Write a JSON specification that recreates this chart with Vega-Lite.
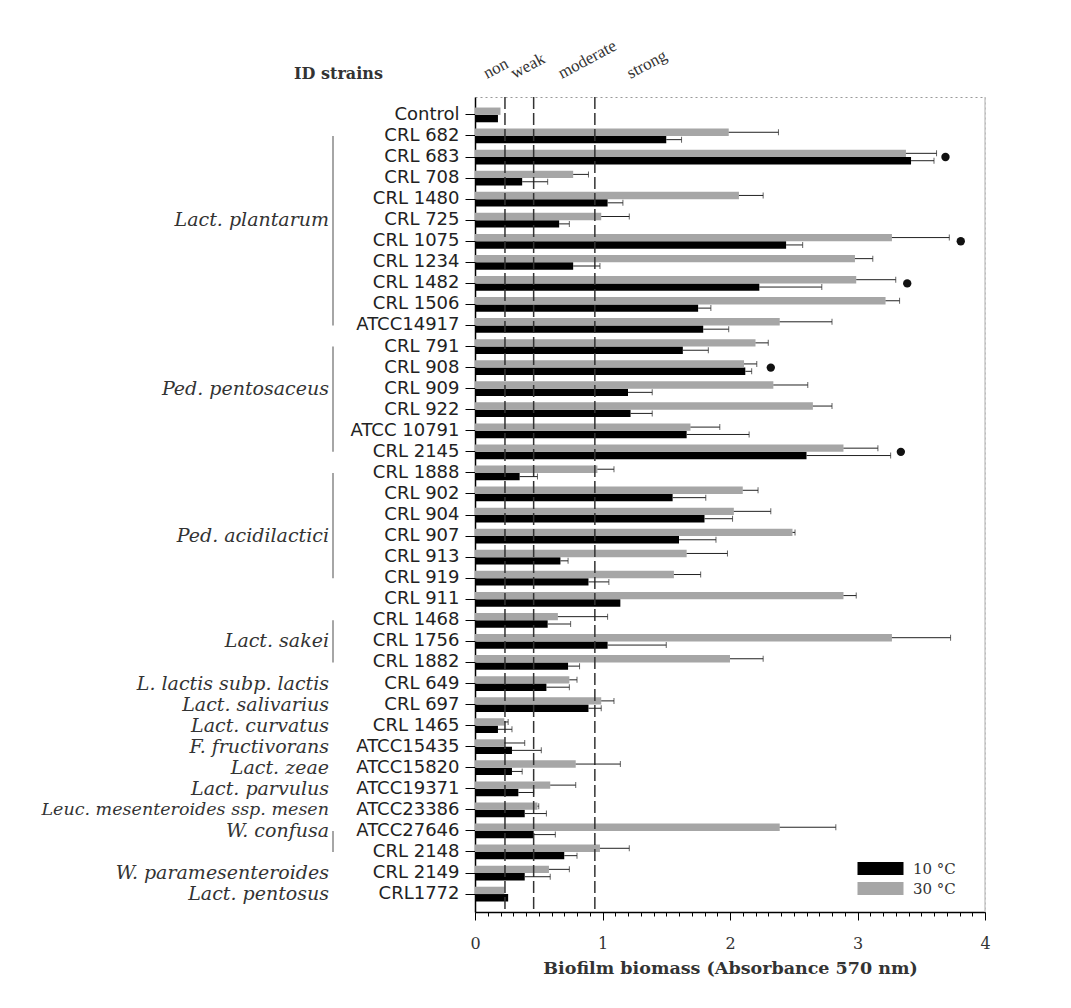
{
  "$schema": "https://vega.github.io/schema/vega-lite/v6.json",
  "width": 510,
  "height": 815,
  "autosize": {"type": "none"},
  "padding": {"left": 475, "top": 97, "right": 86, "bottom": 96},
  "background": "white",
  "config": {
    "view": {"stroke": "#999", "strokeDash": [2, 3], "strokeWidth": 1}
  },
  "datasets": {
    "bars": [
      {"strain": "Control", "temp": "10 °C", "mean": 0.18, "upper": 0.18},
      {"strain": "Control", "temp": "30 °C", "mean": 0.2, "upper": 0.2},
      {"strain": "CRL 682", "temp": "10 °C", "mean": 1.5, "upper": 1.62},
      {"strain": "CRL 682", "temp": "30 °C", "mean": 1.99, "upper": 2.38},
      {"strain": "CRL 683", "temp": "10 °C", "mean": 3.42, "upper": 3.6},
      {"strain": "CRL 683", "temp": "30 °C", "mean": 3.38, "upper": 3.62},
      {"strain": "CRL 708", "temp": "10 °C", "mean": 0.37, "upper": 0.57},
      {"strain": "CRL 708", "temp": "30 °C", "mean": 0.77, "upper": 0.89},
      {"strain": "CRL 1480", "temp": "10 °C", "mean": 1.04, "upper": 1.16},
      {"strain": "CRL 1480", "temp": "30 °C", "mean": 2.07, "upper": 2.26},
      {"strain": "CRL 725", "temp": "10 °C", "mean": 0.66, "upper": 0.74},
      {"strain": "CRL 725", "temp": "30 °C", "mean": 0.99, "upper": 1.21},
      {"strain": "CRL 1075", "temp": "10 °C", "mean": 2.44, "upper": 2.57},
      {"strain": "CRL 1075", "temp": "30 °C", "mean": 3.27, "upper": 3.72},
      {"strain": "CRL 1234", "temp": "10 °C", "mean": 0.77, "upper": 0.98},
      {"strain": "CRL 1234", "temp": "30 °C", "mean": 2.98, "upper": 3.12},
      {"strain": "CRL 1482", "temp": "10 °C", "mean": 2.23, "upper": 2.72},
      {"strain": "CRL 1482", "temp": "30 °C", "mean": 2.99, "upper": 3.3},
      {"strain": "CRL 1506", "temp": "10 °C", "mean": 1.75, "upper": 1.85},
      {"strain": "CRL 1506", "temp": "30 °C", "mean": 3.22, "upper": 3.33},
      {"strain": "ATCC14917", "temp": "10 °C", "mean": 1.79, "upper": 1.99},
      {"strain": "ATCC14917", "temp": "30 °C", "mean": 2.39, "upper": 2.8},
      {"strain": "CRL 791", "temp": "10 °C", "mean": 1.63, "upper": 1.83},
      {"strain": "CRL 791", "temp": "30 °C", "mean": 2.2, "upper": 2.3},
      {"strain": "CRL 908", "temp": "10 °C", "mean": 2.12, "upper": 2.17},
      {"strain": "CRL 908", "temp": "30 °C", "mean": 2.11, "upper": 2.21},
      {"strain": "CRL 909", "temp": "10 °C", "mean": 1.2, "upper": 1.39},
      {"strain": "CRL 909", "temp": "30 °C", "mean": 2.34, "upper": 2.61},
      {"strain": "CRL 922", "temp": "10 °C", "mean": 1.22, "upper": 1.39},
      {"strain": "CRL 922", "temp": "30 °C", "mean": 2.65, "upper": 2.8},
      {"strain": "ATCC 10791", "temp": "10 °C", "mean": 1.66, "upper": 2.15},
      {"strain": "ATCC 10791", "temp": "30 °C", "mean": 1.69, "upper": 1.92},
      {"strain": "CRL 2145", "temp": "10 °C", "mean": 2.6, "upper": 3.26},
      {"strain": "CRL 2145", "temp": "30 °C", "mean": 2.89, "upper": 3.16},
      {"strain": "CRL 1888", "temp": "10 °C", "mean": 0.35, "upper": 0.49},
      {"strain": "CRL 1888", "temp": "30 °C", "mean": 0.96, "upper": 1.09},
      {"strain": "CRL 902", "temp": "10 °C", "mean": 1.55, "upper": 1.81},
      {"strain": "CRL 902", "temp": "30 °C", "mean": 2.1, "upper": 2.22},
      {"strain": "CRL 904", "temp": "10 °C", "mean": 1.8, "upper": 2.02},
      {"strain": "CRL 904", "temp": "30 °C", "mean": 2.03, "upper": 2.32},
      {"strain": "CRL 907", "temp": "10 °C", "mean": 1.6, "upper": 1.89},
      {"strain": "CRL 907", "temp": "30 °C", "mean": 2.49, "upper": 2.51},
      {"strain": "CRL 913", "temp": "10 °C", "mean": 0.67, "upper": 0.73},
      {"strain": "CRL 913", "temp": "30 °C", "mean": 1.66, "upper": 1.98},
      {"strain": "CRL 919", "temp": "10 °C", "mean": 0.89, "upper": 1.05},
      {"strain": "CRL 919", "temp": "30 °C", "mean": 1.56, "upper": 1.77},
      {"strain": "CRL 911", "temp": "10 °C", "mean": 1.14, "upper": 1.14},
      {"strain": "CRL 911", "temp": "30 °C", "mean": 2.89, "upper": 2.99},
      {"strain": "CRL 1468", "temp": "10 °C", "mean": 0.57, "upper": 0.75},
      {"strain": "CRL 1468", "temp": "30 °C", "mean": 0.65, "upper": 1.04},
      {"strain": "CRL 1756", "temp": "10 °C", "mean": 1.04, "upper": 1.5},
      {"strain": "CRL 1756", "temp": "30 °C", "mean": 3.27, "upper": 3.73},
      {"strain": "CRL 1882", "temp": "10 °C", "mean": 0.73, "upper": 0.82},
      {"strain": "CRL 1882", "temp": "30 °C", "mean": 2.0, "upper": 2.26},
      {"strain": "CRL 649", "temp": "10 °C", "mean": 0.56, "upper": 0.74},
      {"strain": "CRL 649", "temp": "30 °C", "mean": 0.74, "upper": 0.8},
      {"strain": "CRL 697", "temp": "10 °C", "mean": 0.89, "upper": 0.99},
      {"strain": "CRL 697", "temp": "30 °C", "mean": 0.99, "upper": 1.09},
      {"strain": "CRL 1465", "temp": "10 °C", "mean": 0.18, "upper": 0.29},
      {"strain": "CRL 1465", "temp": "30 °C", "mean": 0.23, "upper": 0.26},
      {"strain": "ATCC15435", "temp": "10 °C", "mean": 0.29, "upper": 0.52},
      {"strain": "ATCC15435", "temp": "30 °C", "mean": 0.23, "upper": 0.39},
      {"strain": "ATCC15820", "temp": "10 °C", "mean": 0.29, "upper": 0.37},
      {"strain": "ATCC15820", "temp": "30 °C", "mean": 0.79, "upper": 1.14},
      {"strain": "ATCC19371", "temp": "10 °C", "mean": 0.34, "upper": 0.46},
      {"strain": "ATCC19371", "temp": "30 °C", "mean": 0.59, "upper": 0.79},
      {"strain": "ATCC23386", "temp": "10 °C", "mean": 0.39, "upper": 0.56},
      {"strain": "ATCC23386", "temp": "30 °C", "mean": 0.49, "upper": 0.5},
      {"strain": "ATCC27646", "temp": "10 °C", "mean": 0.46, "upper": 0.63},
      {"strain": "ATCC27646", "temp": "30 °C", "mean": 2.39, "upper": 2.83},
      {"strain": "CRL 2148", "temp": "10 °C", "mean": 0.7, "upper": 0.8},
      {"strain": "CRL 2148", "temp": "30 °C", "mean": 0.98, "upper": 1.21},
      {"strain": "CRL 2149", "temp": "10 °C", "mean": 0.39, "upper": 0.59},
      {"strain": "CRL 2149", "temp": "30 °C", "mean": 0.58, "upper": 0.74},
      {"strain": "CRL1772", "temp": "10 °C", "mean": 0.26, "upper": 0.26},
      {"strain": "CRL1772", "temp": "30 °C", "mean": 0.23, "upper": 0.23}
    ],
    "sig": [
      {"strain": "CRL 683", "pos": 3.69},
      {"strain": "CRL 1075", "pos": 3.81},
      {"strain": "CRL 1482", "pos": 3.39},
      {"strain": "CRL 908", "pos": 2.32},
      {"strain": "CRL 2145", "pos": 3.34}
    ],
    "species": [
      {"strain": "CRL 725", "species": "Lact. plantarum"},
      {"strain": "CRL 909", "species": "Ped. pentosaceus"},
      {"strain": "CRL 907", "species": "Ped. acidilactici"},
      {"strain": "CRL 1756", "species": "Lact. sakei"},
      {"strain": "CRL 649", "species": "L. lactis subp. lactis"},
      {"strain": "CRL 697", "species": "Lact. salivarius"},
      {"strain": "CRL 1465", "species": "Lact. curvatus"},
      {"strain": "ATCC15435", "species": "F. fructivorans"},
      {"strain": "ATCC15820", "species": "Lact. zeae"},
      {"strain": "ATCC19371", "species": "Lact. parvulus"},
      {"strain": "ATCC23386", "species": "Leuc. mesenteroides ssp. mesen"},
      {"strain": "ATCC27646", "species": "W. confusa"},
      {"strain": "CRL 2149", "species": "W. paramesenteroides"},
      {"strain": "CRL1772", "species": "Lact. pentosus"}
    ],
    "brackets": [
      {"strain": "CRL 682", "last": "ATCC14917"},
      {"strain": "CRL 791", "last": "CRL 2145"},
      {"strain": "CRL 1888", "last": "CRL 919"},
      {"strain": "CRL 1468", "last": "CRL 1882"},
      {"strain": "ATCC27646", "last": "CRL 2148"}
    ],
    "cutoffs": [
      {"t": 0.235},
      {"t": 0.46},
      {"t": 0.94}
    ],
    "zones": [
      {"label": "non", "pos": 0.094},
      {"label": "weak", "pos": 0.31},
      {"label": "moderate", "pos": 0.68},
      {"label": "strong", "pos": 1.22}
    ]
  },
  "layer": [
    {
      "data": {"name": "bars"},
      "mark": {"type": "bar"},
      "encoding": {
        "y": {
          "field": "strain",
          "type": "nominal",
          "scale": {
            "domain": ["Control", "CRL 682", "CRL 683", "CRL 708", "CRL 1480", "CRL 725", "CRL 1075", "CRL 1234", "CRL 1482", "CRL 1506", "ATCC14917", "CRL 791", "CRL 908", "CRL 909", "CRL 922", "ATCC 10791", "CRL 2145", "CRL 1888", "CRL 902", "CRL 904", "CRL 907", "CRL 913", "CRL 919", "CRL 911", "CRL 1468", "CRL 1756", "CRL 1882", "CRL 649", "CRL 697", "CRL 1465", "ATCC15435", "ATCC15820", "ATCC19371", "ATCC23386", "ATCC27646", "CRL 2148", "CRL 2149", "CRL1772"],
            "paddingInner": 0.3,
            "paddingOuter": 0.5
          },
          "axis": {
            "title": "ID strains",
            "titleAngle": 0,
            "titleX": -137,
            "titleY": -24,
            "titleAlign": "center",
            "titleBaseline": "middle",
            "titleFont": "DejaVu Serif",
            "titleFontSize": 16,
            "titleFontWeight": "bold",
            "titleColor": "#333",
            "labelFont": "DejaVu Sans",
            "labelFontSize": 18,
            "labelColor": "#222",
            "labelPadding": 6,
            "labelLimit": 300,
            "tickSize": 10,
            "tickColor": "#000",
            "domainColor": "#000",
            "domainWidth": 1.5
          }
        },
        "yOffset": {
          "field": "temp",
          "type": "nominal",
          "scale": {"domain": ["30 °C", "10 °C"], "paddingInner": 0, "paddingOuter": 0}
        },
        "x": {
          "field": "mean",
          "type": "quantitative",
          "scale": {"domain": [0, 4], "nice": false},
          "axis": {
            "title": "Biofilm biomass (Absorbance 570 nm)",
            "values": [0, 0.1, 0.2, 0.3, 0.4, 0.5, 0.6, 0.7, 0.8, 0.9, 1, 1.1, 1.2, 1.3, 1.4, 1.5, 1.6, 1.7, 1.8, 1.9, 2, 2.1, 2.2, 2.3, 2.4, 2.5, 2.6, 2.7, 2.8, 2.9, 3, 3.1, 3.2, 3.3, 3.4, 3.5, 3.6, 3.7, 3.8, 3.9, 4],
            "tickCount": 60,
            "labelExpr": "datum.value % 1 === 0 ? format(datum.value, 'd') : ''",
            "labelOverlap": false,
            "labelFlush": false,
            "tickSize": {"condition": {"test": "datum.value % 1 === 0", "value": 8}, "value": 4},
            "tickColor": "#000",
            "domainColor": "#000",
            "domainWidth": 1.5,
            "grid": false,
            "labelFont": "DejaVu Serif",
            "labelFontSize": 16,
            "labelColor": "#333",
            "labelPadding": 15,
            "titleFont": "DejaVu Serif",
            "titleFontSize": 17.5,
            "titleFontWeight": "bold",
            "titleColor": "#333",
            "titlePadding": 8
          }
        },
        "color": {
          "field": "temp",
          "type": "nominal",
          "scale": {"domain": ["10 °C", "30 °C"], "range": ["#000000", "#a6a6a6"]},
          "legend": {
            "title": null,
            "orient": "none",
            "legendX": 398,
            "legendY": 764,
            "rowPadding": 4,
            "symbolType": "M-4.6,-1.3H4.6V1.3H-4.6Z",
            "symbolSize": 100,
            "symbolStrokeWidth": 0,
            "labelFont": "DejaVu Serif",
            "labelFontSize": 15,
            "labelColor": "#333",
            "labelOffset": 25
          }
        }
      }
    },
    {
      "data": {"name": "cutoffs"},
      "mark": {"type": "rule", "color": "#333", "strokeWidth": 1.5, "strokeDash": [12, 4]},
      "encoding": {"x": {"field": "t", "type": "quantitative"}}
    },
    {
      "data": {"name": "bars"},
      "transform": [{"filter": "datum.upper > datum.mean"}],
      "mark": {"type": "rule", "color": "#222", "strokeWidth": 1},
      "encoding": {
        "y": {"field": "strain", "type": "nominal"},
        "yOffset": {"field": "temp", "type": "nominal"},
        "x": {"field": "mean", "type": "quantitative"},
        "x2": {"field": "upper"}
      }
    },
    {
      "data": {"name": "bars"},
      "transform": [{"filter": "datum.upper > datum.mean"}],
      "mark": {"type": "tick", "color": "#222", "thickness": 1, "size": 6},
      "encoding": {
        "y": {"field": "strain", "type": "nominal"},
        "yOffset": {"field": "temp", "type": "nominal"},
        "x": {"field": "upper", "type": "quantitative"}
      }
    },
    {
      "data": {"name": "sig"},
      "mark": {"type": "point", "filled": true, "color": "#111", "size": 70, "opacity": 1},
      "encoding": {
        "y": {"field": "strain", "type": "nominal"},
        "x": {"field": "pos", "type": "quantitative"}
      }
    },
    {
      "data": {"values": [{}]},
      "mark": {"type": "rule", "color": "#c8c8c8", "strokeWidth": 1.5},
      "encoding": {"x": {"datum": 4}}
    },
    {
      "data": {"name": "brackets"},
      "mark": {"type": "rule", "color": "#888", "strokeWidth": 1.5, "xOffset": -142},
      "encoding": {
        "x": {"datum": 0},
        "y": {"field": "strain", "type": "nominal"},
        "y2": {"field": "last"}
      }
    },
    {
      "data": {"name": "species"},
      "mark": {"type": "text", "align": "right", "baseline": "middle", "dx": -146, "font": "DejaVu Serif", "fontStyle": "italic", "color": "#333"},
      "encoding": {
        "x": {"datum": 0},
        "y": {"field": "strain", "type": "nominal"},
        "text": {"field": "species"},
        "size": {"condition": {"test": "length(datum.species) > 25", "value": 17.5}, "value": 19}
      }
    },
    {
      "data": {"name": "zones"},
      "mark": {"type": "text", "align": "left", "baseline": "alphabetic", "angle": -28, "yOffset": -36, "font": "Liberation Serif", "fontSize": 17, "color": "#333"},
      "encoding": {
        "x": {"field": "pos", "type": "quantitative"},
        "y": {"datum": "Control", "type": "nominal"},
        "text": {"field": "label"}
      }
    }
  ]
}
